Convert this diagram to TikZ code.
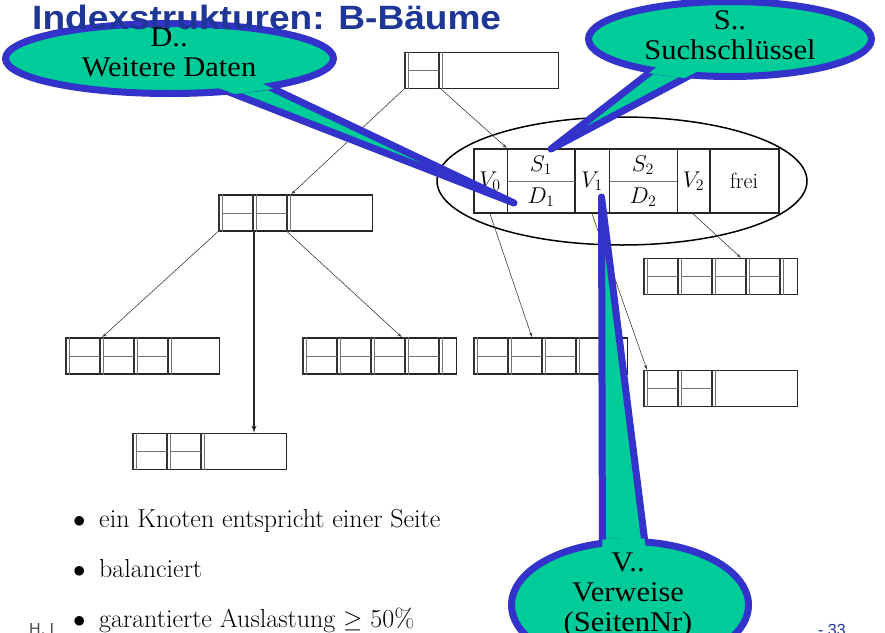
\documentclass[tikz,border=0pt]{standalone}
\usepackage{fontspec}
\usepackage{xcolor}
\usepackage{amsmath}
\usepackage{graphicx}
\usepackage{tikz}
\usetikzlibrary{shapes, arrows, positioning}

\newfontfamily\headfont{Liberation Sans}
\newfontfamily\bubblefont{Liberation Serif}

\definecolor{headblue}{RGB}{30,55,150}
\definecolor{bubblegreen}{RGB}{0,204,153}
\definecolor{bubbleblue}{RGB}{51,51,204}

\newcommand{\sx}[1]{\scalebox{1.07}[1]{#1}}
\newcommand{\cellsize}[1]{\scalebox{1.1}{#1}}

\tikzstyle{pagebox} = [rectangle, draw=black!85, line width=1.2pt,
    minimum width=154pt, minimum height=36pt, inner sep=0pt, anchor=west]
\tikzstyle{zoombox} = [rectangle, draw=black!85, line width=1.6pt,
    minimum width=305pt, minimum height=64pt, inner sep=0pt, anchor=west]
\tikzstyle{ptrline} = [draw=black!80, line width=1.3pt]
\tikzstyle{divider} = [draw=black!55, line width=0.7pt]
\tikzstyle{celltext} = [inner sep=0pt, font=\fontsize{20}{24}\selectfont]
\tikzstyle{line} = [draw=black!75, line width=0.6pt, -latex']
\tikzstyle{bubble} = [fill=bubblegreen, draw=bubbleblue, line width=7pt, line join=round]
\tikzstyle{bubbletext} = [inner sep=0pt, align=center,
    font=\bubblefont\fontsize{28.5}{30}\selectfont]
\tikzstyle{itemtext} = [inner sep=0pt, anchor=base west, font=\fontsize{26}{30}\selectfont]

\begin{document}
\begin{tikzpicture}[x=1pt, y=-1pt]
      \path[use as bounding box, fill=white] (0,0) rectangle (885,632);
      % Tree pages
      \node [pagebox] (root) at (404,70.5) {};
      \node [pagebox] (lefti) at (218,213) {};
      \node [pagebox] (ll) at (65,356) {};
      \node [pagebox] (lm) at (132,451.5) {};
      \node [pagebox] (lr) at (302,356) {};
      \node [pagebox] (rl) at (473,356) {};
      \node [pagebox] (rr) at (643,276.5) {};
      \node [pagebox] (rm) at (643,388.5) {};
      \foreach \n/\k in {root/1, lefti/2, ll/3, lm/2, lr/4, rl/3, rr/4, rm/2} {
        \foreach \i in {0,...,\k} {
          \draw [ptrline] ([xshift={\i*34pt+1pt}]\n.north west) -- ([xshift={\i*34pt+1pt}]\n.south west);
          \draw [divider] ([xshift={\i*34pt+4pt}]\n.north west) -- ([xshift={\i*34pt+4pt}]\n.south west);
        }
        \foreach \i in {1,...,\k}
          \draw [divider] ([xshift={\i*34pt-30pt}]\n.west) -- ([xshift={\i*34pt+1pt}]\n.west);
      }
      % Enlarged page
      \node [draw=black, line width=1.5pt, ellipse, minimum width=370pt, minimum height=128pt, inner sep=0pt] (lens) at (622,181) {};
      \node [zoombox] (big) at (473,181) {};
      \foreach \off/\w in {34/0.8pt, 102/1.6pt, 136/0.8pt, 204/0.8pt, 237/1.6pt}
        \draw [draw=black!85, line width=\w] ([xshift={\off pt}]big.north west) -- ([xshift={\off pt}]big.south west);
      \draw [divider] ([xshift=34pt]big.west) -- ([xshift=102pt]big.west);
      \draw [divider] ([xshift=136pt]big.west) -- ([xshift=204pt]big.west);
      \node [celltext] (v0) at ([xshift=17pt]big.west) {\cellsize{$V_0$}};
      \node [celltext] (s1) at ([xshift=68pt, yshift=16pt]big.west) {\cellsize{$S_1$}};
      \node [celltext] (d1) at ([xshift=68pt, yshift=-16pt]big.west) {\cellsize{$D_1$}};
      \node [celltext] (v1) at ([xshift=119pt]big.west) {\cellsize{$V_1$}};
      \node [celltext] (s2) at ([xshift=170pt, yshift=16pt]big.west) {\cellsize{$S_2$}};
      \node [celltext] (d2) at ([xshift=170pt, yshift=-16pt]big.west) {\cellsize{$D_2$}};
      \node [celltext] (v2) at ([xshift=220.5pt]big.west) {\cellsize{$V_2$}};
      \node [celltext] (free) at ([xshift=271pt]big.west) {\cellsize{frei}};
      % Draw edges
      \path [line] (root.south west) -- ([xshift=73pt]lefti.north west);
      \path [line] ([xshift=37pt]root.south west) -- ([xshift=34pt]big.north west);
      \path [line] (lefti.south west) -- ([xshift=37pt]ll.north west);
      \path [line, draw=black!85, line width=1.4pt] ([xshift=36pt]lefti.south west) -- ([xshift=122pt]lm.north west);
      \path [line] ([xshift=69pt]lefti.south west) -- ([xshift=100pt]lr.north west);
      \path [line] ([xshift=17pt]big.south west) -- ([xshift=59pt]rl.north west);
      \path [line] ([xshift=119pt]big.south west) -- ([xshift=4pt]rm.north west);
      \path [line] ([xshift=220pt]big.south west) -- ([xshift=98pt]rr.north west);
      % Callout S
      \draw [bubble] (668.6,57.8) -- (551,149) -- (725.5,56.5) -- cycle;
      \draw [bubble] (730,39) ellipse [x radius=141.5, y radius=37.5];
      \begin{scope}
        \clip (730,39) ellipse [x radius=145, y radius=41];
        \fill [bubblegreen] (668.6,57.8) -- (551,149) -- (725.5,56.5) -- cycle;
      \end{scope}
      % Callout V
      \draw [bubble] (602.5,575) -- (601.5,197) -- (649,575) -- cycle;
      \draw [bubble] (630,605) ellipse [x radius=118.5, y radius=63.5];
      \begin{scope}
        \clip (630,605) ellipse [x radius=122, y radius=67];
        \fill [bubblegreen] (602.5,575) -- (601.5,197) -- (649,575) -- cycle;
      \end{scope}
      % Callout D
      \draw [bubble] (179.4,72.7) -- (514,203) -- (228.2,67.4) -- cycle;
      \draw [bubble] (169.5,58.5) ellipse [x radius=164, y radius=35];
      \begin{scope}
        \clip (169.5,58.5) ellipse [x radius=167.5, y radius=38.5];
        \fill [bubblegreen] (179.4,72.7) -- (514,203) -- (228.2,67.4) -- cycle;
      \end{scope}
      % Title and texts
      \node [anchor=base west, inner sep=0pt, text=headblue, font=\headfont\bfseries\fontsize{33.7}{40}\selectfont] (title) at (32,29.5) {\scalebox{1.1}[1]{Indexstrukturen: B-Bäume}};
      \node [bubbletext] (dtext) at (169,52.5) {\sx{D..}\\\sx{Weitere Daten}};
      \node [bubbletext] (stext) at (730,35.5) {\sx{S..}\\\sx{Suchschlüssel}};
      \node [bubbletext] (vtext) at (628,595) {\sx{V..}\\\sx{Verweise}\\\sx{(SeitenNr)}};
      \node [itemtext] (item1) at (73,527) {\makebox[26pt][l]{$\bullet$}ein Knoten entspricht einer Seite};
      \node [itemtext] (item2) at ([yshift=-50pt]item1.base west) {\makebox[26pt][l]{$\bullet$}balanciert};
      \node [itemtext] (item3) at ([yshift=-50pt]item2.base west) {\makebox[26pt][l]{$\bullet$}garantierte Auslastung $\geq$ 50\%};
      \node [anchor=base west, inner sep=0pt, text=black!70, font=\headfont\fontsize{16}{18}\selectfont] (author) at (29,634) {H. I};
      \node [anchor=base west, inner sep=0pt, text=headblue, font=\headfont\fontsize{16}{18}\selectfont] (pageno) at (818,635) {- 33};
    \end{tikzpicture}
\end{document}
